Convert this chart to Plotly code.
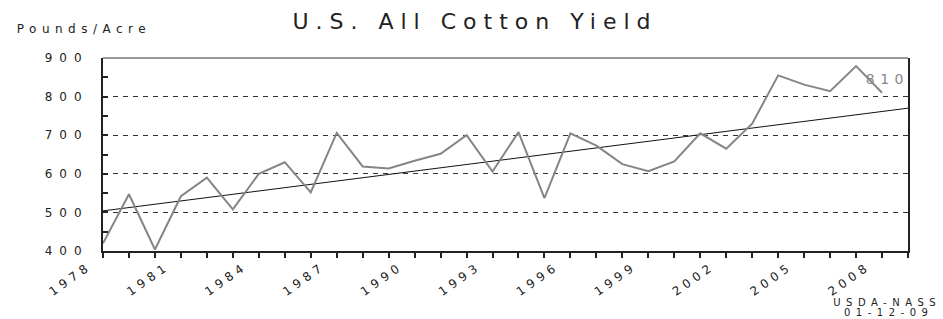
import plotly.graph_objects as go

# ---- data ----
years = list(range(1978, 2009))
yield_lbs = [420, 547, 404, 542, 590, 508, 600, 630, 552, 706,
             619, 614, 634, 652, 700, 606, 708, 537, 705, 673,
             625, 607, 632, 705, 665, 730, 855, 831, 814, 879, 810]

trend_years = [1978, 2009]
trend_values = [504, 770]

tick_years = [1978, 1981, 1984, 1987, 1990, 1993, 1996, 1999, 2002, 2005, 2008]
tick_labels = [str(y) for y in tick_years]
y_ticks = [400, 500, 600, 700, 800, 900]
y_labels = [str(v) for v in y_ticks]

W, H = 943, 319
L, R, T, B = 103, 35, 58, 68
PW, PH = W - L - R, H - T - B


def px_x(px):
    return (px - L) / PW


def px_y(py):
    return (H - B - py) / PH


fig = go.Figure()
fig.add_trace(go.Scatter(x=trend_years, y=trend_values, mode="lines",
                         line=dict(color="#111111", width=1), hoverinfo="skip"))
fig.add_trace(go.Scatter(x=years, y=yield_lbs, mode="lines",
                         line=dict(color="#858585", width=2)))

fig.update_layout(
    width=W, height=H,
    margin=dict(l=L, r=R, t=T, b=B),
    paper_bgcolor="white", plot_bgcolor="white",
    showlegend=False,
    font=dict(family="DejaVu Sans", color="#222222"),
    title=dict(text="U.S. All Cotton Yield", xref="container", yref="container",
               x=0.5 + 3.5 / W, xanchor="center", y=1 - 21 / H, yanchor="middle",
               font=dict(size=22, color="#222222")),
    xaxis=dict(range=[1978, 2009], tickmode="array", tickvals=tick_years, ticktext=tick_labels,
               tickangle=-35, ticks="outside", ticklen=5, tickwidth=1.5, tickcolor="#222222",
               minor=dict(tickmode="linear", tick0=1978, dtick=1, ticks="outside",
                          ticklen=5, tickwidth=1.5, tickcolor="#222222"),
               showgrid=False, zeroline=False, showline=True, linecolor="#222222", linewidth=2,
               ticklabelstandoff=-3, ticklabelshift=-14,
               tickfont=dict(size=12, color="#222222")),
    yaxis=dict(range=[400, 900], tickmode="array", tickvals=y_ticks, ticktext=y_labels,
               ticks="inside", ticklen=5, tickwidth=1.5, tickcolor="#222222",
               minor=dict(tickmode="linear", tick0=450, dtick=100, ticks="inside",
                          ticklen=5, tickwidth=1.5, tickcolor="#222222", showgrid=False),
               showgrid=True, gridcolor="#333333", gridwidth=1, griddash="5px,5px",
               zeroline=False, showline=True, linecolor="#222222", linewidth=2, mirror=True,
               ticklabelstandoff=10,
               tickfont=dict(size=12, color="#222222")),
    shapes=[dict(type="line", xref="paper", yref="paper", x0=0, x1=1, y0=1, y1=1,
                 line=dict(color="#777777", width=1.5), layer="above")],
    annotations=[
        dict(text="Pounds/Acre", xref="paper", yref="paper", x=px_x(84), y=px_y(29),
             xanchor="center", yanchor="middle", showarrow=False,
             font=dict(size=12, color="#222222")),
        dict(text=str(yield_lbs[-1]), x=years[-1], y=yield_lbs[-1], xref="x", yref="y",
             xshift=5, yshift=14, showarrow=False, xanchor="center", yanchor="middle",
             font=dict(size=14, color="#888888")),
        dict(text="USDA-NASS", xref="paper", yref="paper", x=px_x(887), y=px_y(302),
             xanchor="center", yanchor="middle", showarrow=False,
             font=dict(size=10, color="#222222")),
        dict(text="01-12-09", xref="paper", yref="paper", x=px_x(888), y=px_y(312),
             xanchor="center", yanchor="middle", showarrow=False,
             font=dict(size=10, color="#222222")),
    ],
)

post = """
var st = document.createElement('style');
st.textContent = 'html,body{margin:0;padding:0;} ' +
                 '.gtitle{letter-spacing:7px;} .ytick text{letter-spacing:7px;} ' +
                 '.xtick text{letter-spacing:4.5px;} .annotation-text{letter-spacing:5.5px;}';
document.head.appendChild(st);
"""

fig.write_html("out.html", post_script=post, config={"displayModeBar": False})
